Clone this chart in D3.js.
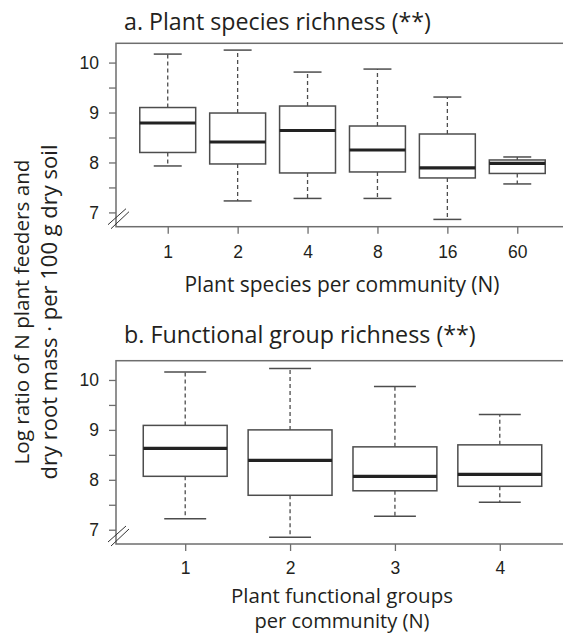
<!DOCTYPE html>
<html>
<head>
<meta charset="utf-8">
<script src="https://cdn.jsdelivr.net/npm/d3@7"></script>
<style>
  html, body { margin: 0; padding: 0; background: #fff; }
  svg { display: block; font-family: "Open Sans", Lato, sans-serif; }
</style>
</head>
<body>
<svg id="chart" width="563" height="635"></svg>
<script>
// ---------- data ----------
var speciesLevels = ["1", "2", "4", "8", "16", "60"];
var speciesLow  = [7.93, 7.23, 7.28, 7.28, 6.86, 7.57];
var speciesQ1   = [8.20, 7.97, 7.79, 7.81, 7.69, 7.78];
var speciesMed  = [8.79, 8.41, 8.64, 8.25, 7.89, 7.98];
var speciesQ3   = [9.10, 8.99, 9.13, 8.73, 8.57, 8.05];
var speciesHigh = [10.17, 10.25, 9.81, 9.87, 9.31, 8.11];

var groupLevels = ["1", "2", "3", "4"];
var groupLow  = [7.22, 6.85, 7.27, 7.55];
var groupQ1   = [8.07, 7.69, 7.78, 7.87];
var groupMed  = [8.63, 8.39, 8.07, 8.11];
var groupQ3   = [9.09, 9.00, 8.66, 8.70];
var groupHigh = [10.16, 10.23, 9.87, 9.31];

var yMajor = [7, 8, 9, 10];
var yMinor = [7.5, 8.5, 9.5];

var svg = d3.select("#chart");
var ink = "#231f20", boxCol = "#4d4d4d", frameCol = "#6e6e6e";
var yDomain = [6.714, 10.386];

// shrink/grow a text node's font so it spans roughly `w` px (original used Calibri)
function fit(sel, size, w) {
  sel.style("font-size", size + "px");
  var got = sel.node().getComputedTextLength();
  if (got > 0) sel.style("font-size", (size * w / got).toFixed(2) + "px");
  return sel;
}

// R-style boxplot panel
function panel(opt) {
  var n = opt.levels.length;
  var x = d3.scaleLinear().domain([0.5 - n * 0.04, n + 0.5 + n * 0.04]).range([116, 569]);
  var y = d3.scaleLinear().domain(yDomain).range([opt.bottom, opt.top]);
  var g = svg.append("g");

  var rows = opt.levels.map(function (l, i) {
    return { pos: i + 1, lo: opt.low[i], q1: opt.q1[i], med: opt.med[i], q3: opt.q3[i], hi: opt.high[i] };
  });
  var bw = 0.4, cw = 0.2;

  var b = g.selectAll("g.box").data(rows).enter().append("g").attr("class", "box");
  // whiskers
  b.append("line").attr("x1", function (d) { return x(d.pos); }).attr("x2", function (d) { return x(d.pos); })
    .attr("y1", function (d) { return y(d.q3); }).attr("y2", function (d) { return y(d.hi); })
    .attr("stroke", boxCol).attr("stroke-width", 1.3).attr("stroke-dasharray", "4,3");
  b.append("line").attr("x1", function (d) { return x(d.pos); }).attr("x2", function (d) { return x(d.pos); })
    .attr("y1", function (d) { return y(d.q1); }).attr("y2", function (d) { return y(d.lo); })
    .attr("stroke", boxCol).attr("stroke-width", 1.3).attr("stroke-dasharray", "4,3");
  // caps
  ["hi", "lo"].forEach(function (k) {
    b.append("line").attr("x1", function (d) { return x(d.pos - cw); }).attr("x2", function (d) { return x(d.pos + cw); })
      .attr("y1", function (d) { return y(d[k]); }).attr("y2", function (d) { return y(d[k]); })
      .attr("stroke", boxCol).attr("stroke-width", 1.5);
  });
  // box
  b.append("rect").attr("x", function (d) { return x(d.pos - bw); }).attr("width", function (d) { return x(d.pos + bw) - x(d.pos - bw); })
    .attr("y", function (d) { return y(d.q3); }).attr("height", function (d) { return y(d.q1) - y(d.q3); })
    .attr("fill", "#fff").attr("stroke", boxCol).attr("stroke-width", 1.5);
  // median
  b.append("line").attr("x1", function (d) { return x(d.pos - bw); }).attr("x2", function (d) { return x(d.pos + bw); })
    .attr("y1", function (d) { return y(d.med); }).attr("y2", function (d) { return y(d.med); })
    .attr("stroke", "#222").attr("stroke-width", 3.2);

  // frame
  g.append("rect").attr("x", x.range()[0]).attr("y", opt.top)
    .attr("width", x.range()[1] - x.range()[0]).attr("height", opt.bottom - opt.top)
    .attr("fill", "none").attr("stroke", frameCol).attr("stroke-width", 1.5);

  // axes
  var ya = g.append("g").attr("transform", "translate(116,0)")
    .call(d3.axisLeft(y).tickValues(yMajor.concat(yMinor)).tickSize(7).tickPadding(10)
      .tickFormat(function (v) { return yMajor.indexOf(v) >= 0 ? String(v) : ""; }));
  var xa = g.append("g").attr("transform", "translate(0," + opt.bottom + ")")
    .call(d3.axisBottom(x).tickValues(rows.map(function (d) { return d.pos; })).tickSize(7).tickPadding(opt.xpad)
      .tickFormat(function (v, i) { return opt.levels[i]; }));
  [ya, xa].forEach(function (a) {
    a.select(".domain").remove();
    a.selectAll(".tick line").attr("stroke", frameCol).attr("stroke-width", 1.3);
    a.selectAll(".tick text").attr("fill", ink).style("font-size", "17.5px").style("font-family", null);
  });

  // axis break mark
  var cx = 116, cy = opt.bottom;
  [[-8, -2, 10, -18], [-5, 2, 13, -15]].forEach(function (s) {
    g.append("line").attr("x1", cx + s[0]).attr("y1", cy + s[1]).attr("x2", cx + s[2]).attr("y2", cy + s[3])
      .attr("stroke", "#333").attr("stroke-width", 1);
  });

  // title + x label
  fit(g.append("text").attr("x", 124).attr("y", opt.titleY).attr("fill", ink).text(opt.title), 21, opt.titleW);
  opt.xlabel.forEach(function (t, i) {
    var tx = g.append("text").attr("x", 342).attr("y", opt.xlabY + i * 25).attr("text-anchor", "middle")
      .attr("fill", ink).text(t);
    fit(tx, 18, opt.xlabW[i]);
  });
}

panel({ levels: speciesLevels, low: speciesLow, q1: speciesQ1, med: speciesMed, q3: speciesQ3, high: speciesHigh,
  top: 43.3, bottom: 226.7, xpad: 12, title: "a. Plant species richness (**)", titleY: 29.5, titleW: 307,
  xlabel: ["Plant species per community (N)"], xlabY: 292, xlabW: [315] });
panel({ levels: groupLevels, low: groupLow, q1: groupQ1, med: groupMed, q3: groupQ3, high: groupHigh,
  top: 360.7, bottom: 544, xpad: 10.5, title: "b. Functional group richness (**)", titleY: 343, titleW: 352,
  xlabel: ["Plant functional groups", "per community (N)"], xlabY: 603, xlabW: [222, 175] });

// shared y label
var yl1 = svg.append("text").attr("transform", "translate(28.5,312) rotate(-90)").attr("text-anchor", "middle")
  .attr("fill", ink).text("Log ratio of N plant feeders and");
var yl2 = svg.append("text").attr("transform", "translate(56.5,312) rotate(-90)").attr("text-anchor", "middle")
  .attr("fill", ink).text("dry root mass \u00b7 per 100 g dry soil");
fit(yl1, 18, 305);
fit(yl2, 18, 335);
</script>
</body>
</html>
